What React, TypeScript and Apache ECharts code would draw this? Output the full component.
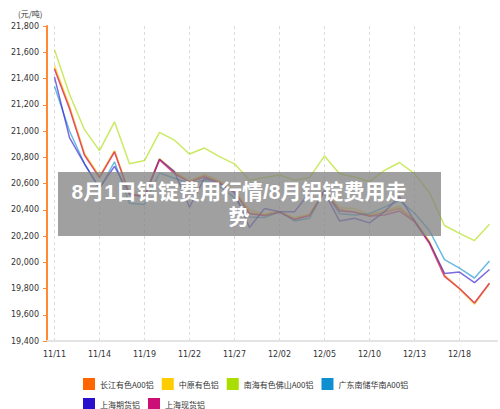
import { useRef, useEffect } from 'react'
import * as echarts from 'echarts'

const dates = [
  '11/11', '11/12', '11/13', '11/14', '11/15', '11/18', '11/19', '11/20', '11/21', '11/22',
  '11/25', '11/26', '11/27', '11/28', '11/29', '12/02', '12/03', '12/04', '12/05', '12/06',
  '12/09', '12/10', '12/11', '12/12', '12/13', '12/16', '12/17', '12/18', '12/19', '12/20',
]

const changjiang = [
  21480, 21180, 20820, 20650, 20845, 20520, 20500, 20785, 20680, 20615,
  20660, 20610, 20540, 20375, 20360, 20385, 20330, 20360, 20545, 20400,
  20385, 20355, 20380, 20410, 20315, 20150, 19900, 19800, 19690, 19840,
]
const zhongyuan = [
  21500, 21190, 20830, 20655, 20850, 20525, 20510, 20790, 20690, 20620,
  20670, 20620, 20545, 20400, 20365, 20390, 20340, 20365, 20550, 20415,
  20410, 20360, 20395, 20425, 20320, 20160, 19895, 19795, 19680, 19840,
]
const nanhai = [
  21620, 21280, 21010, 20850, 21070, 20750, 20775, 20990, 20930, 20825,
  20870, 20805, 20750, 20625, 20645, 20665, 20625, 20645, 20810, 20675,
  20650, 20615, 20700, 20760, 20675, 20530, 20280, 20220, 20165, 20290,
]
const guangdong = [
  21340, 21000, 20750, 20560, 20765, 20450, 20440, 20680, 20640, 20600,
  20625, 20580, 20490, 20345, 20340, 20385, 20315, 20335, 20545, 20370,
  20360, 20370, 20420, 20470, 20375, 20240, 20020, 19955, 19880, 20010,
]
const shFutures = [
  21410, 20950, 20750, 20565, 20730, 20520, 20500, 20785, 20690, 20420,
  20640, 20600, 20530, 20265, 20410, 20385, 20385, 20530, 20530, 20315,
  20335, 20300, 20385, 20500, 20315, 20150, 19915, 19925, 19845, 19945,
]
const shSpot = [
  21470, 21170, 20815, 20645, 20840, 20515, 20500, 20780, 20675, 20610,
  20650, 20605, 20535, 20370, 20355, 20380, 20325, 20355, 20540, 20390,
  20380, 20350, 20360, 20390, 20310, 20140, 19890, 19800, 19690, 19840,
]

const seriesNames = ['长江有色A00铝', '中原有色铝', '南海有色佛山A00铝', '广东南储华南A00铝', '上海期货铝', '上海现货铝']
const seriesColors = ['#ff6600', '#ffcc00', '#aadd00', '#0f8fd0', '#2a10cc', '#cc0f77']
const seriesValues = [changjiang, zhongyuan, nanhai, guangdong, shFutures, shSpot]

// overlay caption, wrapped onto two lines like the reference
const overlayLines = ['8月1日铝锭费用行情/8月铝锭费用走', '势']

export default function App() {
  const chartRef = useRef<HTMLDivElement>(null)

  useEffect(() => {
    const el = chartRef.current
    if (!el) return
    const chart = echarts.init(el, null, { renderer: 'svg' })

    const axisFont = { fontSize: 8, color: '#333', fontFamily: 'DejaVu Sans' }

    chart.setOption({
      animation: false,
      backgroundColor: '#fff',
      title: {
        text: '(元/吨)',
        left: 13,
        top: 4,
        textStyle: { fontSize: 8, fontWeight: 'normal', color: '#333', fontFamily: 'Noto Sans CJK SC' },
      },
      grid: { left: 47, right: 3, top: 26, bottom: 68, containLabel: false },
      legend: {
        left: 78,
        top: 373,
        width: 380,
        itemWidth: 12,
        itemHeight: 12,
        itemGap: 8,
        icon: 'rect',
        textStyle: { fontSize: 8, color: '#333', width: 68, fontFamily: 'Noto Sans CJK SC' },
        data: seriesNames.map((name, i) => ({ name, itemStyle: { color: seriesColors[i], opacity: 1, borderWidth: 0 } })),
      },
      xAxis: {
        type: 'category',
        data: dates,
        boundaryGap: true,
        axisLine: { lineStyle: { color: '#e3e3e3', width: 2 } },
        axisTick: { show: false },
        axisLabel: { ...axisFont, interval: 2, margin: 9 },
        splitLine: {
          show: true,
          interval: 2,
          alignWithLabel: true,
          lineStyle: { color: '#dcdcdc', type: [3, 3], width: 1 },
        },
      },
      yAxis: {
        type: 'value',
        min: 19400,
        max: 21800,
        interval: 200,
        axisLine: { show: true, lineStyle: { color: '#ff8a33', width: 2 } },
        axisTick: { show: true, length: 4, lineStyle: { color: '#ff8a33', width: 1 } },
        axisLabel: { ...axisFont, margin: 8, formatter: (v: number) => v.toLocaleString('en-US') },
        splitLine: { show: false },
      },
      series: seriesNames.map((name, i) => ({
        name,
        type: 'line',
        data: seriesValues[i],
        symbol: 'none',
        itemStyle: { color: seriesColors[i] },
        lineStyle: { color: seriesColors[i], width: 1.5, opacity: 0.62 },
      })),
      graphic: [
        {
          type: 'rect',
          z: 100,
          shape: { x: 58, y: 172, width: 383, height: 64 },
          style: { fill: 'rgba(128,128,128,0.75)' },
        },
        ...overlayLines.map((line, i) => ({
          type: 'text',
          z: 101,
          x: 239,
          y: 191 + i * 25,
          style: {
            text: line,
            fill: '#fff',
            fontSize: 21,
            lineHeight: 21,
            fontWeight: 'bold',
            fontFamily: '"Liberation Sans", "Noto Sans CJK SC"',
            textAlign: 'center',
            textVerticalAlign: 'middle',
          },
        })),
      ],
    })

    return () => {
      chart.dispose()
    }
  }, [])

  return <div ref={chartRef} style={{ position: 'absolute', left: 0, top: 0, width: 500, height: 409 }} />
}
